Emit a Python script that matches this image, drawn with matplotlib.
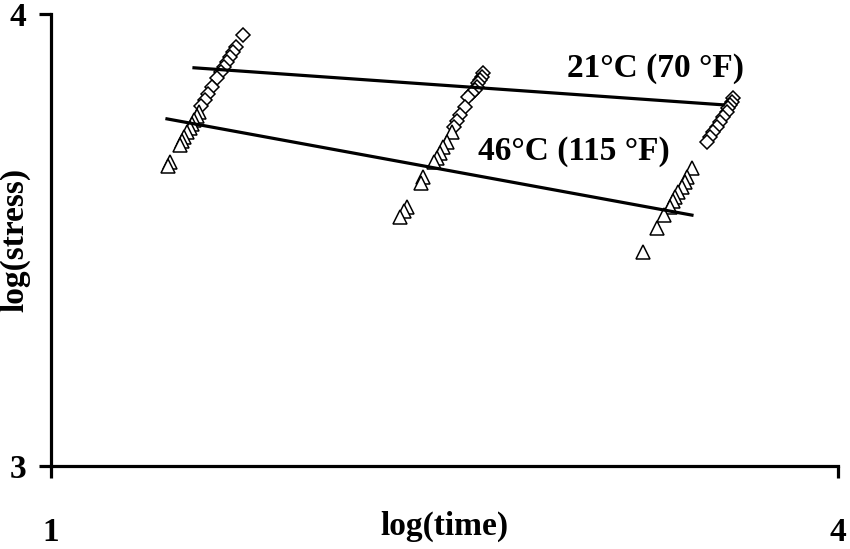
import matplotlib
matplotlib.use('agg')
import matplotlib.pyplot as plt

# 21 C (70 F) data, three test groups
t21 = [1.732, 1.705, 1.694, 1.682, 1.671, 1.659, 1.648, 1.633, 1.614, 1.598, 1.587, 1.572,
       2.647, 2.643, 2.635, 2.628, 2.624, 2.616, 2.605, 2.590, 2.578, 2.559, 2.548, 2.536,
       3.600, 3.596, 3.588, 3.581, 3.577, 3.562, 3.550, 3.539, 3.524, 3.512, 3.501]
s21 = [3.954, 3.927, 3.916, 3.905, 3.894, 3.883, 3.872, 3.858, 3.838, 3.823, 3.810, 3.796,
       3.869, 3.861, 3.854, 3.847, 3.838, 3.832, 3.825, 3.816, 3.794, 3.777, 3.763, 3.750,
       3.814, 3.805, 3.799, 3.792, 3.783, 3.772, 3.761, 3.750, 3.739, 3.728, 3.717]

# 46 C (115 F) data
t46 = [1.564, 1.557, 1.545, 1.538, 1.530, 1.518, 1.507, 1.499, 1.492, 1.454, 1.446,
       2.529, 2.510, 2.494, 2.483, 2.471, 2.460, 2.418, 2.410, 2.357, 2.346, 2.330,
       3.443, 3.424, 3.417, 3.405, 3.390, 3.379, 3.371, 3.360, 3.337, 3.310, 3.257]
s46 = [3.783, 3.774, 3.765, 3.757, 3.748, 3.739, 3.728, 3.719, 3.710, 3.673, 3.664,
       3.739, 3.717, 3.706, 3.692, 3.681, 3.673, 3.639, 3.626, 3.573, 3.564, 3.551,
       3.659, 3.639, 3.628, 3.617, 3.606, 3.595, 3.586, 3.573, 3.555, 3.527, 3.473]

# fitted lines (end points)
fit21_t = [1.545, 3.562]
fit21_s = [3.881, 3.799]
fit46_t = [1.442, 3.443]
fit46_s = [3.768, 3.555]

plt.rcParams['font.family'] = 'Liberation Serif'
plt.rcParams['font.weight'] = 'bold'
plt.rcParams['font.size'] = 24

fig = plt.figure(figsize=(8.5, 5.49), dpi=100)
ax = fig.add_axes([0.06, 0.1512, 0.926, 0.8233])

ax.plot(t21, s21, linestyle='none', marker='D', markersize=7.5, markerfacecolor='white',
        markeredgecolor='black', markeredgewidth=1.1)
ax.plot(t46, s46, linestyle='none', marker='^', markersize=10, markerfacecolor='white',
        markeredgecolor='black', markeredgewidth=1.1)
ax.plot(fit21_t, fit21_s, color='black', lw=2.3)
ax.plot(fit46_t, fit46_s, color='black', lw=2.3)

ax.text(2.967, 3.861, '21°C (70 °F)', ha='left', va='baseline', fontweight='bold')
ax.text(2.628, 3.677, '46°C (115 °F)', ha='left', va='baseline', fontweight='bold')

ax.set_xlim(1, 4)
ax.set_ylim(3, 4)
ax.set_xticks([1, 4])
ax.set_yticks([3, 4])
ax.set_xticklabels(['1', '4'])
ax.set_yticklabels(['3', '4'])

for side in ['top', 'right']:
    ax.spines[side].set_visible(False)
for side in ['left', 'bottom']:
    ax.spines[side].set_linewidth(2.3)

ax.tick_params(axis='x', direction='out', length=8.5, width=2.3, pad=28)
ax.tick_params(axis='y', direction='out', length=8.5, width=2.3, pad=9)

ax.set_xlabel('log(time)', fontweight='bold')
ax.set_ylabel('log(stress)', fontweight='bold')
ax.xaxis.set_label_coords(0.5, -0.1)
ax.yaxis.set_label_coords(-0.026, 0.5)

fig.savefig('out.png', dpi=100)
